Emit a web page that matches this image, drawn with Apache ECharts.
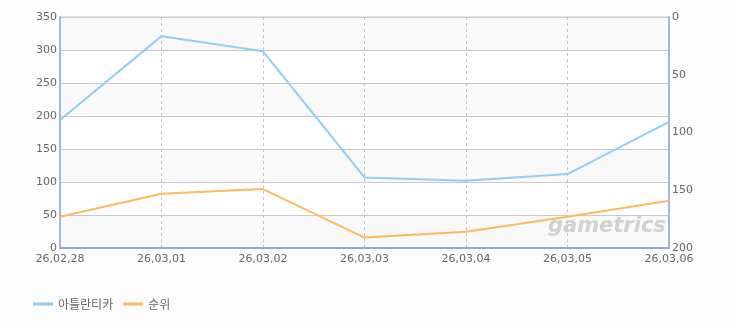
<!DOCTYPE html>
<html>
<head>
<meta charset="utf-8">
<script src="https://cdn.jsdelivr.net/npm/echarts@6/dist/echarts.min.js"></script>
<style>
html,body{margin:0;padding:0;background:#fcfcfc;}
#c{width:730px;height:325px;}
</style>
</head>
<body>
<div id="c"></div>
<script>
var categories = ['26,02,28','26,03,01','26,03,02','26,03,03','26,03,04','26,03,05','26,03,06'];
var atlanticaValues = [194, 321, 298, 107, 102, 112, 191];
var rankValues = [173, 153, 149, 191, 186, 173, 159];
var leftTicks = [0, 350, 50];
var rightTicks = [0, 200, 50];

var chart = echarts.init(document.getElementById('c'));
var labelStyle = {color:'#666', fontSize:11, fontFamily:'DejaVu Sans, sans-serif'};
chart.setOption({
  backgroundColor:'#fcfcfc',
  animation:false,
  grid:{left:60, right:61, top:17, bottom:77, containLabel:false, show:true, borderColor:'#b8c8dc', borderWidth:1, backgroundColor:'transparent'},
  legend:{
    left:28, top:293, itemWidth:20, itemHeight:3, itemGap:10,
    icon:'rect',
    textStyle:{color:'#666', fontSize:12, fontFamily:'Noto Sans CJK KR, sans-serif'},
    data:['아틀란티카','순위']
  },
  xAxis:{
    type:'category', data:categories, boundaryGap:false,
    axisLine:{lineStyle:{color:'#9aaabb', width:2}},
    axisTick:{show:false},
    axisLabel:Object.assign({margin:6, showMaxLabel:true, showMinLabel:true, interval:0}, labelStyle),
    splitLine:{show:true, lineStyle:{color:'#c4c4c4', type:[3,3], width:1}}
  },
  yAxis:[{
    type:'value', min:leftTicks[0], max:leftTicks[1], interval:leftTicks[2],
    axisLine:{show:true, lineStyle:{color:'#a8b8cc', width:2}},
    axisTick:{show:false},
    axisLabel:Object.assign({margin:3}, labelStyle),
    splitLine:{lineStyle:{color:'#c8c8c8'}},
    splitArea:{show:true, areaStyle:{color:['#f9f9f9','#ffffff']}}
  },{
    type:'value', min:rightTicks[0], max:rightTicks[1], interval:rightTicks[2], inverse:true,
    position:'right',
    axisLine:{show:true, lineStyle:{color:'#a8b8cc', width:2}},
    axisTick:{show:false},
    axisLabel:Object.assign({margin:3}, labelStyle),
    splitLine:{show:false}
  }],
  graphic:[{
    type:'text', left:548, top:216, z:10, silent:true,
    style:{text:'gametrics', fill:'#c8c8c8', opacity:0.8, font:'italic bold 21px DejaVu Sans, sans-serif'}
  }],
  series:[{
    name:'아틀란티카', type:'line', data:atlanticaValues, yAxisIndex:0,
    showSymbol:false, symbol:'none', color:'#8fd0f2',
    lineStyle:{width:2, color:'#8fd0f2'}, z:3
  },{
    name:'순위', type:'line', data:rankValues, yAxisIndex:1,
    showSymbol:false, symbol:'none', color:'#fbbb5c',
    lineStyle:{width:2, color:'#fbbb5c'}, z:20
  }]
});
</script>
</body>
</html>
